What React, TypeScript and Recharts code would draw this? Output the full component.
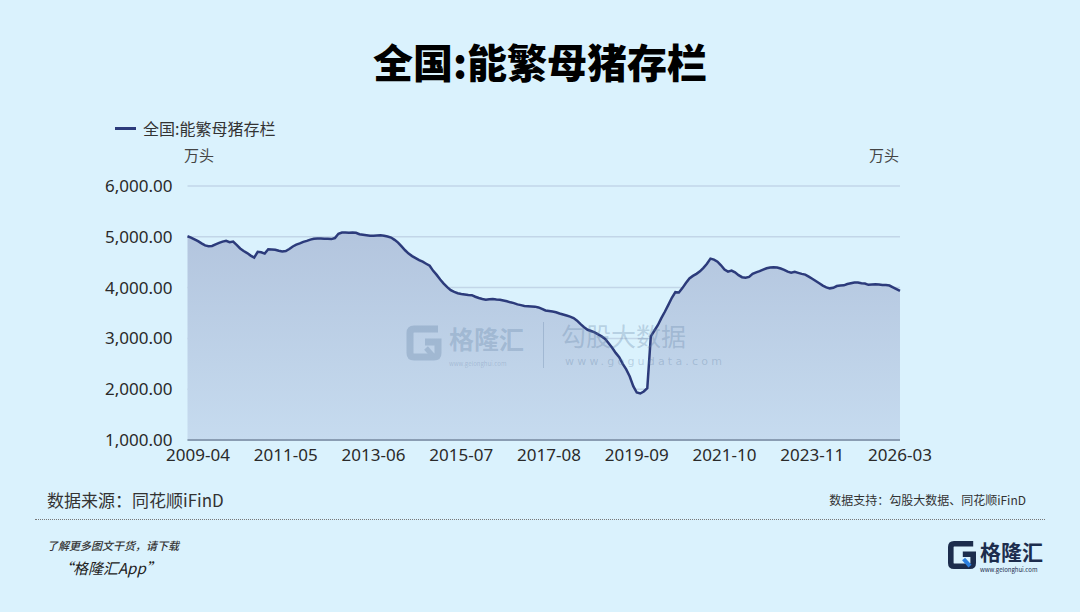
import { Area, AreaChart, CartesianGrid, XAxis, YAxis } from "recharts";

const seriesName = "全国:能繁母猪存栏";
const unit = "万头";

// monthly readings, 2009-01 onward (万头)
const values = [
  5010, 4985, 4950, 4915, 4870, 4830, 4815, 4820, 4850, 4880, 4905, 4920,
  4895, 4905, 4840, 4770, 4720, 4680, 4630, 4590, 4705, 4695, 4670, 4755,
  4750, 4745, 4725, 4710, 4720, 4760, 4810, 4845, 4870, 4900, 4920, 4945,
  4960, 4965, 4965, 4960, 4960, 4955, 4975, 5060, 5085, 5085, 5080, 5085,
  5080, 5050, 5040, 5030, 5020, 5020, 5025, 5030, 5020, 5005, 4985, 4940,
  4885, 4810, 4735, 4670, 4620, 4580, 4540, 4510, 4470, 4430, 4330, 4250,
  4160, 4080, 4010, 3950, 3915, 3890, 3875, 3865, 3855, 3850, 3820, 3795,
  3775, 3760, 3770, 3775, 3765, 3760, 3745, 3730, 3710, 3695, 3670, 3655,
  3640, 3635, 3630, 3625, 3610, 3580, 3550, 3540, 3530, 3515, 3490, 3470,
  3450, 3430, 3400, 3350, 3280, 3220, 3170, 3145, 3120, 3080, 3040, 2990,
  2905, 2815, 2715, 2630, 2500, 2390, 2250, 2060, 1935, 1915, 1955, 2020,
  3040, 3150, 3260, 3400, 3525, 3660, 3800, 3910, 3905, 3990, 4090, 4180,
  4230, 4270, 4320, 4390, 4470, 4570, 4550, 4510, 4440, 4355, 4315, 4335,
  4300, 4245, 4205, 4195, 4210, 4270, 4300, 4325, 4355, 4380, 4395, 4400,
  4395, 4375, 4350, 4315, 4295, 4310, 4290, 4270, 4255, 4215, 4175, 4130,
  4085, 4040, 4005, 3985, 3995, 4030, 4040, 4045, 4070, 4085, 4100, 4100,
  4085, 4080, 4055, 4060, 4065, 4060, 4050, 4050, 4040, 4005, 3970, 3935,
];

const tickLabels = [
  "2009-04", "2011-05", "2013-06", "2015-07", "2017-08",
  "2019-09", "2021-10", "2023-11", "2026-03",
];
const yTicks = [1000, 2000, 3000, 4000, 5000, 6000];

const data = values.map((v, i) => ({ idx: i, value: v }));
const xTicks = tickLabels.map((_, i) => 3 + i * 25);

const fmt = (v: number) =>
  v.toLocaleString("en-US", { minimumFractionDigits: 2, maximumFractionDigits: 2 });

const cjk = '"Noto Sans CJK SC", "Noto Sans", sans-serif';
const axisFont = { fontSize: 17, fill: "#2a2a2a", fontFamily: '"Noto Sans", sans-serif' };
const wm = "rgba(95,127,163,0.3)";

const GIcon = ({ size, color, accent }: { size: number; color: string; accent: string }) => (
  <svg width={size} height={size} viewBox="0 0 40 40">
    <path d="M34 6 H10 Q6 6 6 10 V30 Q6 34 10 34 H30 Q34 34 34 30 V19 H21"
          fill="none" stroke={color} strokeWidth={7} />
    <path d="M22 25 L30 34" stroke={accent} strokeWidth={5} />
  </svg>
);

export default function App() {
  return (
    <div style={{
      position: "absolute", left: 0, top: 0, width: 1080, height: 612,
      background: "#daf2fd", overflow: "hidden", fontFamily: cjk,
    }}>
      <div style={{
        position: "absolute", top: 38, left: 0, width: 1080, textAlign: "center",
        fontSize: 40, lineHeight: "46px", fontWeight: 900, color: "#000",
      }}>{seriesName}</div>

      <div style={{ position: "absolute", left: 115, top: 127, width: 21, height: 3, background: "#2c3b7b" }} />
      <div style={{ position: "absolute", left: 143, top: 118, fontSize: 16, lineHeight: "20px", color: "#333" }}>
        {seriesName}
      </div>
      <div style={{ position: "absolute", left: 184, top: 145, fontSize: 15, lineHeight: "20px", color: "#444" }}>{unit}</div>
      <div style={{ position: "absolute", left: 869, top: 145, fontSize: 15, lineHeight: "20px", color: "#444" }}>{unit}</div>

      <AreaChart width={1080} height={612} data={data}
                 margin={{ top: 186, right: 100, bottom: 142, left: 107.5 }}
                 style={{ position: "absolute", left: 0, top: 0 }}>
        <defs>
          <linearGradient id="areaFill" x1="0" y1="0" x2="0" y2="1">
            <stop offset="0%" stopColor="#b3c5de" />
            <stop offset="100%" stopColor="#c6dbef" />
          </linearGradient>
        </defs>
        <CartesianGrid vertical={false} stroke="#c2d6e8" strokeWidth={1.5} yAxisId="left" />
        <XAxis dataKey="idx" type="number" domain={[0, values.length - 1]} ticks={xTicks} interval={0}
               tickFormatter={(v) => tickLabels[xTicks.indexOf(v)]}
               height={30} tickLine={false} tickMargin={3}
               axisLine={{ stroke: "#8a9db3", strokeWidth: 2 }} tick={axisFont} />
        <YAxis yAxisId="left" domain={[1000, 6000]} ticks={yTicks} width={80} interval={0}
               axisLine={false} tickLine={false} tickMargin={9} tickFormatter={fmt} tick={axisFont} />
        <YAxis yAxisId="right" orientation="right" domain={[1000, 6000]} ticks={yTicks} width={80} interval={0}
               axisLine={false} tickLine={false} tickMargin={10} tickFormatter={fmt} tick={axisFont} />
        <Area yAxisId="left" type="linear" dataKey="value" name={seriesName}
              stroke="#2c3b7b" strokeWidth={2.5} fill="url(#areaFill)" fillOpacity={1}
              dot={false} activeDot={false} isAnimationActive={false} />
      </AreaChart>

      {/* watermark */}
      <div style={{ position: "absolute", left: 404, top: 323, opacity: 0.3, pointerEvents: "none" }}>
        <GIcon size={40} color="#5f7fa3" accent="#5f7fa3" />
      </div>
      <div style={{ position: "absolute", left: 449, top: 325, fontSize: 25, lineHeight: "27px", fontWeight: 700,
                    color: wm, pointerEvents: "none" }}>格隆汇</div>
      <div style={{ position: "absolute", left: 449, top: 360, fontSize: 6, lineHeight: "7px",
                    color: wm, pointerEvents: "none" }}>www.gelonghui.com</div>
      <div style={{ position: "absolute", left: 543, top: 322, width: 1, height: 46, background: wm }} />
      <div style={{ position: "absolute", left: 561, top: 322, fontSize: 25, lineHeight: "27px",
                    color: wm, pointerEvents: "none" }}>勾股大数据</div>
      <div style={{ position: "absolute", left: 565, top: 356, fontSize: 11, lineHeight: "12px", letterSpacing: 3.2,
                    color: wm, fontFamily: '"DejaVu Sans", sans-serif' }}>www.gogudata.com</div>

      {/* footer */}
      <div style={{ position: "absolute", left: 47, top: 489, fontSize: 17, lineHeight: "22px", color: "#333" }}>
        数据来源：同花顺iFinD
      </div>
      <div style={{ position: "absolute", right: 54, top: 491, fontSize: 12, lineHeight: "18px", color: "#333" }}>
        数据支持：勾股大数据、同花顺iFinD
      </div>
      <div style={{ position: "absolute", left: 35, top: 519, width: 1010, borderTop: "1.5px dotted #777" }} />
      <div style={{ position: "absolute", left: 47, top: 538, fontSize: 11, lineHeight: "14px", fontStyle: "italic",
                    color: "#333", fontWeight: 500 }}>了解更多图文干货，请下载</div>
      <div style={{ position: "absolute", left: 58, top: 558, fontSize: 15, lineHeight: "20px", fontStyle: "italic",
                    color: "#222" }}>“格隆汇App”</div>

      <div style={{ position: "absolute", left: 946, top: 539 }}>
        <GIcon size={32} color="#1c2d4d" accent="#2b7fe0" />
      </div>
      <div style={{ position: "absolute", left: 980, top: 538, fontSize: 21, lineHeight: "26px", fontWeight: 700,
                    color: "#1c2d4d" }}>格隆汇</div>
      <div style={{ position: "absolute", left: 980, top: 566, fontSize: 6, lineHeight: "8px", color: "#1c2d4d" }}>
        www.gelonghui.com
      </div>
    </div>
  );
}
